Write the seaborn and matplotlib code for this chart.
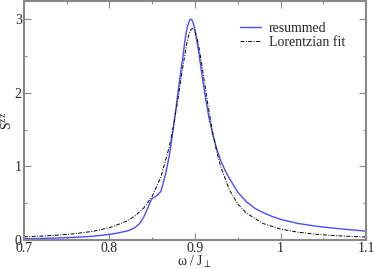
import numpy as np
import pandas as pd
import matplotlib
matplotlib.use("Agg")
import matplotlib.pyplot as plt
from matplotlib.ticker import MultipleLocator
import seaborn as sns

# values
omega_res = [0.70, 0.72, 0.74, 0.76, 0.78, 0.80, 0.81, 0.82, 0.825, 0.83, 0.835,
             0.84, 0.845, 0.848, 0.85, 0.853, 0.856, 0.86, 0.863, 0.866, 0.87,
             0.875, 0.88, 0.884, 0.886, 0.888, 0.891, 0.894, 0.896, 0.898, 0.90,
             0.903, 0.905, 0.908, 0.912, 0.916, 0.92, 0.925, 0.93, 0.935, 0.94,
             0.95, 0.96, 0.97, 0.98, 0.99, 1.00, 1.02, 1.04, 1.05, 1.06, 1.08, 1.10]
s_res = [0.015, 0.02, 0.027, 0.036, 0.05, 0.075, 0.095, 0.12, 0.14, 0.17, 0.22,
         0.31, 0.44, 0.53, 0.565, 0.585, 0.61, 0.66, 0.78, 0.92, 1.15,
         1.55, 2.0, 2.35, 2.5, 2.7, 2.9, 3.0, 3.0, 2.95, 2.85,
         2.65, 2.5, 2.25, 1.95, 1.68, 1.47, 1.25, 1.08, 0.95, 0.84,
         0.65, 0.52, 0.43, 0.37, 0.32, 0.28, 0.225, 0.19, 0.175, 0.163, 0.14, 0.12]

omega_fit = [0.70, 0.72, 0.74, 0.76, 0.78, 0.80, 0.82, 0.83, 0.84, 0.85, 0.86,
             0.87, 0.875, 0.88, 0.885, 0.89, 0.8925, 0.895, 0.8975, 0.90, 0.9025,
             0.905, 0.91, 0.915, 0.92, 0.925, 0.93, 0.94, 0.95, 0.96, 0.98,
             1.00, 1.02, 1.04, 1.06, 1.08, 1.10]
s_fit = [0.042, 0.052, 0.066, 0.086, 0.116, 0.166, 0.255, 0.328, 0.434, 0.596, 0.853,
         1.271, 1.565, 1.918, 2.304, 2.654, 2.783, 2.860, 2.880, 2.836, 2.737,
         2.592, 2.227, 1.843, 1.501, 1.220, 0.996, 0.684, 0.49, 0.365, 0.222,
         0.148, 0.106, 0.079, 0.061, 0.049, 0.040]

res = pd.DataFrame({"omega": omega_res, "S": s_res})
fit = pd.DataFrame({"omega": omega_fit, "S": s_fit})

sns.set_style("ticks")
plt.rcParams["font.family"] = ["Liberation Serif", "DejaVu Serif"]
plt.rcParams["mathtext.fontset"] = "custom"
plt.rcParams["mathtext.rm"] = "Liberation Serif"
plt.rcParams["mathtext.it"] = "Liberation Serif:italic"

fig = plt.figure(figsize=(3.74, 2.69), dpi=100)
ax = fig.add_axes([0.064, 0.108, 0.915, 0.888])

sns.lineplot(data=res, x="omega", y="S", ax=ax, color="#4b4bff", lw=1.0,
             label="resummed", sort=False)
sns.lineplot(data=fit, x="omega", y="S", ax=ax, color="black", lw=0.7,
             linestyle=(0, (4, 1.5, 1, 1.5)), label="Lorentzian fit", sort=False)

ax.set_xlim(0.7, 1.1)
ax.set_ylim(0, 3.25)
ax.xaxis.set_minor_locator(MultipleLocator(0.05))
ax.yaxis.set_major_locator(MultipleLocator(1))
ax.yaxis.set_minor_locator(MultipleLocator(0.5))
ax.set_xticks([0.7, 0.8, 0.9, 1.0, 1.1])
ax.set_xticklabels(["0.7", "0.8", "0.9", "1", "1.1"])
ax.tick_params(which="both", direction="in", top=True, right=True,
               color="#888888", labelsize=10, pad=1.5)
ax.tick_params(which="major", length=5, width=0.8)
ax.tick_params(which="minor", length=2.5, width=0.8)
for sp in ax.spines.values():
    sp.set_color("#888888")
    sp.set_linewidth(1.5)

ax.set_xlabel(r"ω / J$_{\perp}$", fontsize=10, labelpad=-1)
ax.set_ylabel(r"S$^{\mathrm{zz}}$", fontsize=10)
ax.yaxis.set_label_coords(-0.03, 0.5)

ax.legend(loc="upper right", frameon=False, fontsize=10, handlelength=1.5,
          handletextpad=0.6, labelspacing=0.05, borderaxespad=0,
          bbox_to_anchor=(0.955, 0.935))

fig.savefig("out.png", dpi=100)
